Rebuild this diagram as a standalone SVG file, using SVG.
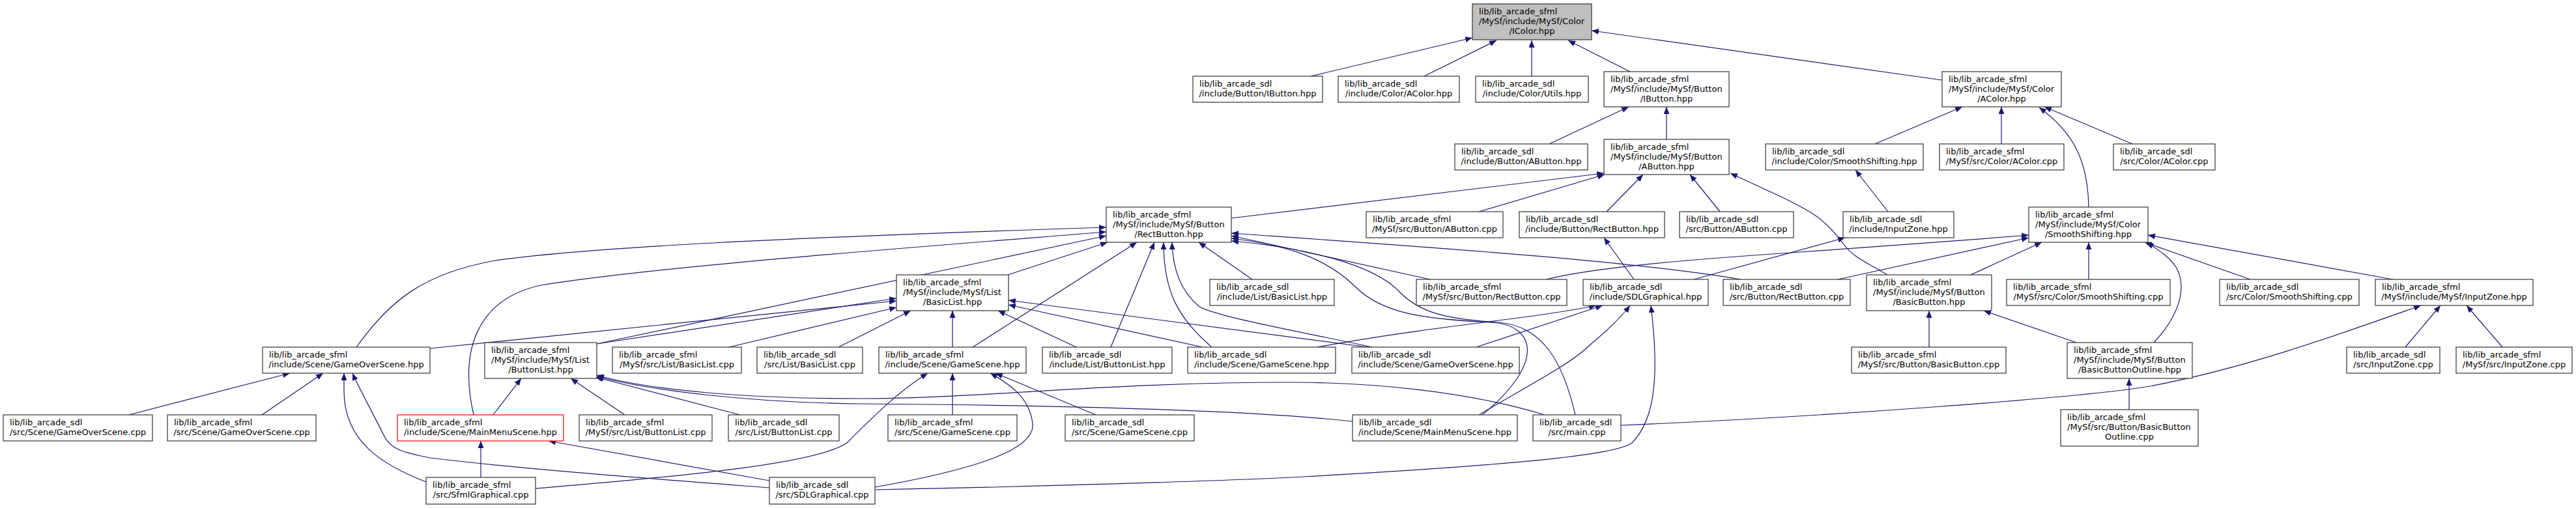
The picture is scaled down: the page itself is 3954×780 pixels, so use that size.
<svg xmlns="http://www.w3.org/2000/svg" width="3954" height="780" viewBox="0 0 3954 780">
<defs>
<marker id="arr" markerUnits="userSpaceOnUse" markerWidth="12" markerHeight="10" refX="11" refY="4.5" orient="auto"><path d="M0,0 L11,4.5 L0,9 z" fill="#191970"/></marker>
</defs>
<style>
rect.n{fill:#ffffff;stroke:#333333;stroke-width:1.2}
rect.root{fill:#bfbfbf;stroke:#333333;stroke-width:1.2}
rect.red{fill:#ffffff;stroke:#ff0000;stroke-width:1.2}
text{font-family:"DejaVu Sans","Liberation Sans",sans-serif;font-size:13px;fill:#000000}
text.c{text-anchor:middle}
#edges path{fill:none;stroke:#191970;stroke-width:1.2;marker-end:url(#arr)}
</style>
<rect x="0" y="0" width="3954" height="780" fill="#ffffff"/>
<g id="edges">
<path d="M2012,117 L2260,58"/>
<path d="M2186,117 L2297,62"/>
<path d="M2351,117 L2351,62"/>
<path d="M2502,110 L2407,62"/>
<path d="M2981,123 L2443,47"/>
<path d="M2378,221 L2500,164"/>
<path d="M2558,214 L2558,164"/>
<path d="M2878,221 L3012,164"/>
<path d="M3072,221 L3072,164"/>
<path d="M3273,221 L3138,164"/>
<path d="M3206,318 C3205,250 3185,205 3130,165"/>
<path d="M1890,335 L2462,266"/>
<path d="M2270,325 L2463,268"/>
<path d="M2466,325 L2522,268"/>
<path d="M2640,325 L2594,268"/>
<path d="M2897,422 C2860,400 2845,395 2830,375 C2800,335 2780,325 2740,305 L2656,266"/>
<path d="M2898,325 L2848,261"/>
<path d="M2600,429 L2832,365"/>
<path d="M2508,429 L2462,365"/>
<path d="M1547,422 L1700,372"/>
<path d="M916,528 L1698,362"/>
<path d="M547,533 C600,460 650,420 760,400 C900,380 1200,365 1698,349"/>
<path d="M727,637 C705,540 730,460 830,438 C1000,410 1400,380 1698,356"/>
<path d="M1493,533 L1745,372"/>
<path d="M1705,533 L1772,372"/>
<path d="M1860,533 C1810,490 1786,450 1786,372"/>
<path d="M2106,533 C2000,510 1860,485 1840,470 C1810,445 1800,410 1799,372"/>
<path d="M1922,429 L1840,372"/>
<path d="M2195,429 L1890,362"/>
<path d="M2672,429 C2500,400 2200,380 1890,358"/>
<path d="M2275,637 C2370,560 2360,500 2290,495 C2180,490 2120,480 2080,440 C2030,390 1960,375 1890,366"/>
<path d="M2418,637 C2400,560 2370,500 2300,495 C2220,490 2180,480 2150,450 C2110,405 2000,380 1890,370"/>
<path d="M916,528 L1376,458"/>
<path d="M660,535 L1376,462"/>
<path d="M1119,533 L1376,472"/>
<path d="M1287,533 L1398,477"/>
<path d="M1462,533 L1462,477"/>
<path d="M1652,533 L1532,477"/>
<path d="M1846,533 L1548,468"/>
<path d="M2100,533 L1548,461"/>
<path d="M757,637 L800,581"/>
<path d="M959,637 L876,581"/>
<path d="M1136,637 L914,579"/>
<path d="M2076,647 C1900,628 1600,622 1320,620 C1150,618 1000,600 916,578"/>
<path d="M2371,637 C2250,600 2100,587 1980,587 C1700,587 1500,612 1320,612 C1150,612 1000,600 916,576"/>
<path d="M738,733 L738,677"/>
<path d="M1181,738 L842,677"/>
<path d="M654,740 C590,715 528,680 528,600 L528,573"/>
<path d="M1181,749 C1000,735 800,720 660,703 C620,695 600,690 590,670 C570,630 548,590 541,573"/>
<path d="M198,637 L445,573"/>
<path d="M402,637 L496,573"/>
<path d="M822,750 C1000,735 1250,715 1300,680 C1340,640 1380,600 1424,573"/>
<path d="M1343,748 C1500,720 1590,690 1585,650 C1580,610 1550,590 1520,573"/>
<path d="M1462,637 L1462,573"/>
<path d="M1682,637 L1528,573"/>
<path d="M1343,752 C1700,745 1950,735 2000,732 C2300,715 2480,700 2505,680 C2545,640 2545,560 2534,469"/>
<path d="M2270,637 C2340,595 2410,560 2440,530 C2470,505 2490,485 2502,469"/>
<path d="M2022,533 C2200,500 2350,490 2450,469"/>
<path d="M2266,533 L2460,469"/>
<path d="M2373,429 C2450,410 2600,398 2750,388 C2900,378 3000,370 3114,361"/>
<path d="M2821,429 L3114,365"/>
<path d="M3025,422 L3134,372"/>
<path d="M3206,429 L3206,372"/>
<path d="M3454,429 L3292,372"/>
<path d="M3306,526 C3340,490 3360,445 3340,410 C3330,395 3315,385 3295,372"/>
<path d="M3673,429 L3297,361"/>
<path d="M3187,526 L3045,477"/>
<path d="M2961,533 L2961,477"/>
<path d="M3268,629 L3268,581"/>
<path d="M3692,533 L3746,469"/>
<path d="M3841,533 L3786,469"/>
<path d="M2488,653 C2800,640 3200,610 3300,593 C3450,565 3600,510 3716,469"/>
</g>
<g id="IColor"><rect class="root" x="2260" y="6" width="183" height="55"/><text x="2270" y="22">lib/lib_arcade_sfml</text><text x="2270" y="37">/MySf/include/MySf/Color</text><text class="c" x="2351.5" y="52">/IColor.hpp</text></g>
<g id="IButton_sdl"><rect class="n" x="1831" y="117" width="199" height="40"/><text x="1841" y="133">lib/lib_arcade_sdl</text><text class="c" x="1930.5" y="148">/include/Button/IButton.hpp</text></g>
<g id="AColor_sdl"><rect class="n" x="2054" y="117" width="186" height="40"/><text x="2064" y="133">lib/lib_arcade_sdl</text><text class="c" x="2147" y="148">/include/Color/AColor.hpp</text></g>
<g id="Utils_sdl"><rect class="n" x="2265" y="117" width="173" height="40"/><text x="2275" y="133">lib/lib_arcade_sdl</text><text class="c" x="2351.5" y="148">/include/Color/Utils.hpp</text></g>
<g id="IButton_sfml"><rect class="n" x="2462" y="110" width="192" height="54"/><text x="2472" y="126">lib/lib_arcade_sfml</text><text x="2472" y="141">/MySf/include/MySf/Button</text><text class="c" x="2558" y="156">/IButton.hpp</text></g>
<g id="AColor_sfml"><rect class="n" x="2981" y="110" width="183" height="54"/><text x="2991" y="126">lib/lib_arcade_sfml</text><text x="2991" y="141">/MySf/include/MySf/Color</text><text class="c" x="3072.5" y="156">/AColor.hpp</text></g>
<g id="AButton_sdl"><rect class="n" x="2233" y="221" width="204" height="40"/><text x="2243" y="237">lib/lib_arcade_sdl</text><text class="c" x="2335" y="252">/include/Button/AButton.hpp</text></g>
<g id="AButton_sfml"><rect class="n" x="2462" y="214" width="192" height="54"/><text x="2472" y="230">lib/lib_arcade_sfml</text><text x="2472" y="245">/MySf/include/MySf/Button</text><text class="c" x="2558" y="260">/AButton.hpp</text></g>
<g id="SmoothShifting_sdl"><rect class="n" x="2710" y="221" width="242" height="40"/><text x="2720" y="237">lib/lib_arcade_sdl</text><text class="c" x="2831" y="252">/include/Color/SmoothShifting.hpp</text></g>
<g id="AColorcpp_sfml"><rect class="n" x="2977" y="221" width="191" height="40"/><text x="2987" y="237">lib/lib_arcade_sfml</text><text class="c" x="3072.5" y="252">/MySf/src/Color/AColor.cpp</text></g>
<g id="AColorcpp_sdl"><rect class="n" x="3244" y="221" width="156" height="40"/><text x="3254" y="237">lib/lib_arcade_sdl</text><text class="c" x="3322" y="252">/src/Color/AColor.cpp</text></g>
<g id="RectButton_sfml"><rect class="n" x="1698" y="318" width="192" height="54"/><text x="1708" y="334">lib/lib_arcade_sfml</text><text x="1708" y="349">/MySf/include/MySf/Button</text><text class="c" x="1794" y="364">/RectButton.hpp</text></g>
<g id="AButtoncpp_sfml"><rect class="n" x="2097" y="325" width="210" height="40"/><text x="2107" y="341">lib/lib_arcade_sfml</text><text class="c" x="2202" y="356">/MySf/src/Button/AButton.cpp</text></g>
<g id="RectButton_sdl"><rect class="n" x="2332" y="325" width="223" height="40"/><text x="2342" y="341">lib/lib_arcade_sdl</text><text class="c" x="2443.5" y="356">/include/Button/RectButton.hpp</text></g>
<g id="AButtoncpp_sdl"><rect class="n" x="2578" y="325" width="175" height="40"/><text x="2588" y="341">lib/lib_arcade_sdl</text><text class="c" x="2665.5" y="356">/src/Button/AButton.cpp</text></g>
<g id="InputZone_sdl"><rect class="n" x="2829" y="325" width="170" height="40"/><text x="2839" y="341">lib/lib_arcade_sdl</text><text class="c" x="2914" y="356">/include/InputZone.hpp</text></g>
<g id="SmoothShifting_sfml"><rect class="n" x="3114" y="318" width="183" height="54"/><text x="3124" y="334">lib/lib_arcade_sfml</text><text x="3124" y="349">/MySf/include/MySf/Color</text><text class="c" x="3205.5" y="364">/SmoothShifting.hpp</text></g>
<g id="BasicList_sfml"><rect class="n" x="1376" y="422" width="172" height="55"/><text x="1386" y="438">lib/lib_arcade_sfml</text><text x="1386" y="453">/MySf/include/MySf/List</text><text class="c" x="1462" y="468">/BasicList.hpp</text></g>
<g id="BasicList_sdl"><rect class="n" x="1857" y="429" width="191" height="40"/><text x="1867" y="445">lib/lib_arcade_sdl</text><text class="c" x="1952.5" y="460">/include/List/BasicList.hpp</text></g>
<g id="RectButtoncpp_sfml"><rect class="n" x="2174" y="429" width="231" height="40"/><text x="2184" y="445">lib/lib_arcade_sfml</text><text class="c" x="2289.5" y="460">/MySf/src/Button/RectButton.cpp</text></g>
<g id="SDLGraphical_hpp"><rect class="n" x="2430" y="429" width="192" height="40"/><text x="2440" y="445">lib/lib_arcade_sdl</text><text class="c" x="2526" y="460">/include/SDLGraphical.hpp</text></g>
<g id="RectButtoncpp_sdl"><rect class="n" x="2645" y="429" width="195" height="40"/><text x="2655" y="445">lib/lib_arcade_sdl</text><text class="c" x="2742.5" y="460">/src/Button/RectButton.cpp</text></g>
<g id="BasicButton_sfml"><rect class="n" x="2865" y="422" width="192" height="55"/><text x="2875" y="438">lib/lib_arcade_sfml</text><text x="2875" y="453">/MySf/include/MySf/Button</text><text class="c" x="2961" y="468">/BasicButton.hpp</text></g>
<g id="SmoothShiftingcpp_sfml"><rect class="n" x="3080" y="429" width="251" height="40"/><text x="3090" y="445">lib/lib_arcade_sfml</text><text class="c" x="3205.5" y="460">/MySf/src/Color/SmoothShifting.cpp</text></g>
<g id="SmoothShiftingcpp_sdl"><rect class="n" x="3407" y="429" width="214" height="40"/><text x="3417" y="445">lib/lib_arcade_sdl</text><text class="c" x="3514" y="460">/src/Color/SmoothShifting.cpp</text></g>
<g id="InputZone_sfml"><rect class="n" x="3646" y="429" width="242" height="40"/><text x="3656" y="445">lib/lib_arcade_sfml</text><text class="c" x="3767" y="460">/MySf/include/MySf/InputZone.hpp</text></g>
<g id="GameOverScene_sfml"><rect class="n" x="403" y="533" width="257" height="40"/><text x="413" y="549">lib/lib_arcade_sfml</text><text class="c" x="531.5" y="564">/include/Scene/GameOverScene.hpp</text></g>
<g id="ButtonList_sfml"><rect class="n" x="744" y="526" width="172" height="55"/><text x="754" y="542">lib/lib_arcade_sfml</text><text x="754" y="557">/MySf/include/MySf/List</text><text class="c" x="830" y="572">/ButtonList.hpp</text></g>
<g id="BasicListcpp_sfml"><rect class="n" x="940" y="533" width="198" height="40"/><text x="950" y="549">lib/lib_arcade_sfml</text><text class="c" x="1039" y="564">/MySf/src/List/BasicList.cpp</text></g>
<g id="BasicListcpp_sdl"><rect class="n" x="1162" y="533" width="162" height="40"/><text x="1172" y="549">lib/lib_arcade_sdl</text><text class="c" x="1243" y="564">/src/List/BasicList.cpp</text></g>
<g id="GameScene_sfml"><rect class="n" x="1349" y="533" width="226" height="40"/><text x="1359" y="549">lib/lib_arcade_sfml</text><text class="c" x="1462" y="564">/include/Scene/GameScene.hpp</text></g>
<g id="ButtonList_sdl"><rect class="n" x="1600" y="533" width="199" height="40"/><text x="1610" y="549">lib/lib_arcade_sdl</text><text class="c" x="1699.5" y="564">/include/List/ButtonList.hpp</text></g>
<g id="GameScene_sdl"><rect class="n" x="1823" y="533" width="227" height="40"/><text x="1833" y="549">lib/lib_arcade_sdl</text><text class="c" x="1936.5" y="564">/include/Scene/GameScene.hpp</text></g>
<g id="GameOverScene_sdl"><rect class="n" x="2075" y="533" width="257" height="40"/><text x="2085" y="549">lib/lib_arcade_sdl</text><text class="c" x="2203.5" y="564">/include/Scene/GameOverScene.hpp</text></g>
<g id="BasicButtoncpp_sfml"><rect class="n" x="2842" y="533" width="237" height="40"/><text x="2852" y="549">lib/lib_arcade_sfml</text><text class="c" x="2960.5" y="564">/MySf/src/Button/BasicButton.cpp</text></g>
<g id="BasicButtonOutline_hpp"><rect class="n" x="3173" y="526" width="192" height="55"/><text x="3183" y="542">lib/lib_arcade_sfml</text><text x="3183" y="557">/MySf/include/MySf/Button</text><text class="c" x="3269" y="572">/BasicButtonOutline.hpp</text></g>
<g id="InputZonecpp_sdl"><rect class="n" x="3602" y="533" width="143" height="40"/><text x="3612" y="549">lib/lib_arcade_sdl</text><text class="c" x="3673.5" y="564">/src/InputZone.cpp</text></g>
<g id="InputZonecpp_sfml"><rect class="n" x="3770" y="533" width="178" height="40"/><text x="3780" y="549">lib/lib_arcade_sfml</text><text class="c" x="3859" y="564">/MySf/src/InputZone.cpp</text></g>
<g id="GameOverScenecpp_sdl"><rect class="n" x="5" y="637" width="229" height="40"/><text x="15" y="653">lib/lib_arcade_sdl</text><text class="c" x="119.5" y="668">/src/Scene/GameOverScene.cpp</text></g>
<g id="GameOverScenecpp_sfml"><rect class="n" x="257" y="637" width="228" height="40"/><text x="267" y="653">lib/lib_arcade_sfml</text><text class="c" x="371" y="668">/src/Scene/GameOverScene.cpp</text></g>
<g id="MainMenuScene_sfml"><rect class="red" x="610" y="637" width="255" height="40"/><text x="620" y="653">lib/lib_arcade_sfml</text><text class="c" x="737.5" y="668">/include/Scene/MainMenuScene.hpp</text></g>
<g id="ButtonListcpp_sfml"><rect class="n" x="889" y="637" width="204" height="40"/><text x="899" y="653">lib/lib_arcade_sfml</text><text class="c" x="991" y="668">/MySf/src/List/ButtonList.cpp</text></g>
<g id="ButtonListcpp_sdl"><rect class="n" x="1118" y="637" width="170" height="40"/><text x="1128" y="653">lib/lib_arcade_sdl</text><text class="c" x="1203" y="668">/src/List/ButtonList.cpp</text></g>
<g id="GameScenecpp_sfml"><rect class="n" x="1363" y="637" width="198" height="40"/><text x="1373" y="653">lib/lib_arcade_sfml</text><text class="c" x="1462" y="668">/src/Scene/GameScene.cpp</text></g>
<g id="GameScenecpp_sdl"><rect class="n" x="1635" y="637" width="198" height="40"/><text x="1645" y="653">lib/lib_arcade_sdl</text><text class="c" x="1734" y="668">/src/Scene/GameScene.cpp</text></g>
<g id="MainMenuScene_sdl"><rect class="n" x="2076" y="637" width="253" height="40"/><text x="2086" y="653">lib/lib_arcade_sdl</text><text class="c" x="2202.5" y="668">/include/Scene/MainMenuScene.hpp</text></g>
<g id="main_cpp"><rect class="n" x="2353" y="637" width="135" height="40"/><text x="2363" y="653">lib/lib_arcade_sdl</text><text class="c" x="2420.5" y="668">/src/main.cpp</text></g>
<g id="BasicButtonOutlinecpp"><rect class="n" x="3163" y="629" width="211" height="56"/><text x="3173" y="645">lib/lib_arcade_sfml</text><text x="3173" y="660">/MySf/src/Button/BasicButton</text><text class="c" x="3268.5" y="675">Outline.cpp</text></g>
<g id="SfmlGraphical_cpp"><rect class="n" x="654" y="733" width="168" height="41"/><text x="664" y="749">lib/lib_arcade_sfml</text><text class="c" x="738" y="764">/src/SfmlGraphical.cpp</text></g>
<g id="SDLGraphical_cpp"><rect class="n" x="1181" y="733" width="162" height="41"/><text x="1191" y="749">lib/lib_arcade_sdl</text><text class="c" x="1262" y="764">/src/SDLGraphical.cpp</text></g>
</svg>
